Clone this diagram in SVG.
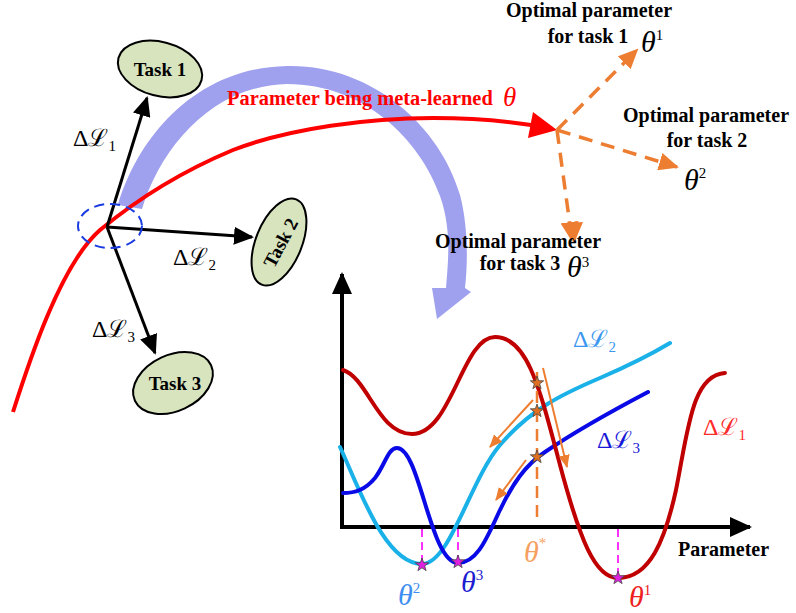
<svg xmlns="http://www.w3.org/2000/svg" width="796" height="613" viewBox="0 0 796 613">
<defs>
<marker id="ahBlack" markerUnits="userSpaceOnUse" markerWidth="20" markerHeight="18" viewBox="0 0 20 18" refX="18" refY="9" orient="auto"><path d="M0,0 L20,9 L0,18 z" fill="#000"/></marker>
<marker id="ahAxis" markerUnits="userSpaceOnUse" markerWidth="22" markerHeight="20" viewBox="0 0 22 20" refX="20" refY="10" orient="auto"><path d="M0,0 L22,10 L0,20 z" fill="#000"/></marker>
<marker id="ahOrange" markerUnits="userSpaceOnUse" markerWidth="20" markerHeight="18" viewBox="0 0 20 18" refX="18" refY="9" orient="auto"><path d="M0,0 L20,9 L0,18 z" fill="#ed7d31"/></marker>
<marker id="ahOrangeS" markerUnits="userSpaceOnUse" markerWidth="13" markerHeight="11" viewBox="0 0 13 11" refX="12" refY="5.5" orient="auto"><path d="M0,0 L13,5.5 L0,11 z" fill="#ed7d31"/></marker>
<path id="star" d="M0,-7 L1.65,-2.27 L6.66,-2.16 L2.66,0.87 L4.11,5.66 L0,2.8 L-4.11,5.66 L-2.66,0.87 L-6.66,-2.16 L-1.65,-2.27 Z"/>
</defs>
<style>
.task{fill:#d7e4bd;stroke:#000;stroke-width:2}
.bold{font-family:"Liberation Serif","Times New Roman",serif;font-weight:bold;font-size:20px;fill:#000}
.tl{font-size:19px}
.math{font-family:"Liberation Serif","DejaVu Serif",serif;font-size:24px}
.th{font-family:"Liberation Serif","DejaVu Serif",serif;font-style:italic;font-size:30px}
.sup{font-style:normal;font-size:15px}
.sub{font-size:15px}
.blk{stroke:#000;stroke-width:3;fill:none;marker-end:url(#ahBlack)}
.odash{stroke:#ed7d31;stroke-width:3.5;fill:none;stroke-dasharray:14 9;marker-end:url(#ahOrange)}
.oarr{stroke:#ed7d31;stroke-width:2;fill:none;marker-end:url(#ahOrangeS)}
.axis{stroke:#000;stroke-width:4;fill:none;marker-end:url(#ahAxis)}
.curve{fill:none;stroke-width:4;stroke-linecap:round}
.mdash{stroke:#ff33ff;stroke-width:2;stroke-dasharray:8 5}
.ostar{fill:#e07020;stroke:#444;stroke-width:0.8}
.mstar{fill:#e020e0;stroke:#444;stroke-width:0.8}
</style>

<!-- big lavender curved arrow -->
<g id="meta-arrow">
<path d="M118,205 C135,145 190,68 287,66 C370,64 440,125 460,195 C468,225 468,262 465,288 L471,292 L437,319 L432,288 L446,288 C448,262 452,230 440,196 C420,140 365,84 287,84 C210,86 160,150 142,209 Z" fill="#9fa0ee"/>
</g>

<!-- red meta-learning trajectory -->
<g id="trajectory">
<path d="M13,412 C28,365 60,265 100,230 C140,197 185,170 233,150 C290,128 370,118 433,118 C470,118 505,121 531,125" fill="none" stroke="#ff0000" stroke-width="4"/>
<polygon points="533,112 557,130 528,138" fill="#ff0000"/>
<text x="227" y="105" class="bold" style="fill:#ff0000;font-size:20.4px">Parameter being meta-learned</text>
<text x="503" y="106" class="th" style="font-size:27px" fill="#ff0000">θ</text>
</g>

<!-- connectors -->
<g id="connectors">
<line x1="107" y1="227" x2="147" y2="98" class="blk"/>
<line x1="107" y1="227" x2="252" y2="237" class="blk"/>
<line x1="107" y1="227" x2="155" y2="353" class="blk"/>
<line x1="557" y1="130" x2="637" y2="50" class="odash"/>
<line x1="557" y1="130" x2="677" y2="167" class="odash"/>
<line x1="557" y1="130" x2="572" y2="240" class="odash"/>
</g>

<g id="origin">
<ellipse cx="110" cy="226" rx="32" ry="22" fill="none" stroke="#1a3be0" stroke-width="2" stroke-dasharray="10 6"/>
</g>

<g id="task1">
<ellipse cx="160" cy="69" rx="43" ry="27" transform="rotate(15 160 69)" class="task"/>
<text x="160" y="76" text-anchor="middle" class="bold tl">Task 1</text>
</g>
<g id="task2">
<ellipse cx="279" cy="242" rx="46" ry="23" transform="rotate(-68 279 242)" class="task"/>
<text transform="translate(281,243) rotate(-62)" y="6" text-anchor="middle" class="bold tl">Task 2</text>
</g>
<g id="task3">
<ellipse cx="173" cy="383" rx="42" ry="28" transform="rotate(-25 173 383)" class="task"/>
<text x="175" y="390" text-anchor="middle" class="bold tl">Task 3</text>
</g>

<g id="loss-labels">
<text x="73" y="146" class="math">Δℒ<tspan class="sub" dy="5">1</tspan></text>
<text x="173" y="265" class="math">Δℒ<tspan class="sub" dy="5">2</tspan></text>
<text x="92" y="337" class="math">Δℒ<tspan class="sub" dy="5">3</tspan></text>
</g>

<g id="optimal1">
<text x="589" y="17" text-anchor="middle" class="bold">Optimal parameter</text>
<text x="588" y="43" text-anchor="middle" class="bold">for task 1</text>
<text x="641" y="52" class="th">θ<tspan class="sup" dy="-12">1</tspan></text>
</g>
<g id="optimal2">
<text x="706" y="122" text-anchor="middle" class="bold">Optimal parameter</text>
<text x="707" y="147" text-anchor="middle" class="bold">for task 2</text>
<text x="684" y="190" class="th">θ<tspan class="sup" dy="-12">2</tspan></text>
</g>
<g id="optimal3">
<text x="518" y="248" text-anchor="middle" class="bold">Optimal parameter</text>
<text x="520" y="270" text-anchor="middle" class="bold">for task 3</text>
<text x="567" y="277" class="th">θ<tspan class="sup" dy="-10">3</tspan></text>
</g>
<!-- orange arrowhead drawn over task 3 text, as in the reference -->
<path d="M565,223 L575,241 L583,222 z" fill="#ed7d31"/>

<!-- loss landscape plot -->
<g id="plot">
<line x1="342" y1="529" x2="342" y2="274" class="axis"/>
<line x1="340" y1="527" x2="750" y2="527" class="axis"/>
<text x="678" y="556" class="bold">Parameter</text>

<path class="curve" stroke="#1ab0e8" d="M340,447 C360,490 385,564 422,564 C450,564 470,480 500,445 C530,410 560,395 600,378 C630,365 650,355 670,343"/>
<path class="curve" stroke="#0a0ae6" d="M343,493 C355,493 365,490 375,478 C385,465 388,448 397,448 C420,448 430,563 458,563 C478,563 488,535 500,510 C512,485 525,465 545,452 C570,435 610,412 648,392"/>
<path class="curve" stroke="#c00000" d="M343,370 C368,378 378,434 412,434 C452,434 462,337 495,337 C528,337 540,390 560,465 C580,540 595,578 618,578 C650,578 665,540 676,490 C688,430 692,375 725,373"/>

<line x1="422" y1="529" x2="422" y2="562" class="mdash"/>
<line x1="458" y1="529" x2="458" y2="559" class="mdash"/>
<line x1="618" y1="529" x2="618" y2="575" class="mdash"/>
<line x1="537" y1="372" x2="537" y2="518" stroke="#ed7d31" stroke-width="2.5" stroke-dasharray="12 7"/>

<line x1="543" y1="368" x2="567" y2="467" class="oarr"/>
<line x1="533" y1="400" x2="490" y2="447" class="oarr"/>
<line x1="526" y1="460" x2="496" y2="500" class="oarr"/>

<use href="#star" x="537" y="383" class="ostar"/>
<use href="#star" x="537" y="411" class="ostar"/>
<use href="#star" x="537" y="457" class="ostar"/>
<use href="#star" x="422" y="565" class="mstar"/>
<use href="#star" x="458" y="562" class="mstar"/>
<use href="#star" x="618" y="578" class="mstar"/>

<text x="573" y="347" class="math" fill="#3a96f0">Δℒ<tspan class="sub" dy="5">2</tspan></text>
<text x="597" y="448" class="math" fill="#1818d8">Δℒ<tspan class="sub" dy="5">3</tspan></text>
<text x="703" y="435" class="math" fill="#ff2a2a">Δℒ<tspan class="sub" dy="5">1</tspan></text>

<text x="398" y="605" class="th" fill="#3d8ef0">θ<tspan class="sup" dy="-12">2</tspan></text>
<text x="461" y="592" class="th" fill="#1c1cd0">θ<tspan class="sup" dy="-12">3</tspan></text>
<text x="524" y="562" class="th" fill="#f5a060">θ<tspan class="sup" dy="-14">*</tspan></text>
<text x="629" y="607" class="th" fill="#ee2020">θ<tspan class="sup" dy="-12">1</tspan></text>
</g>
</svg>
